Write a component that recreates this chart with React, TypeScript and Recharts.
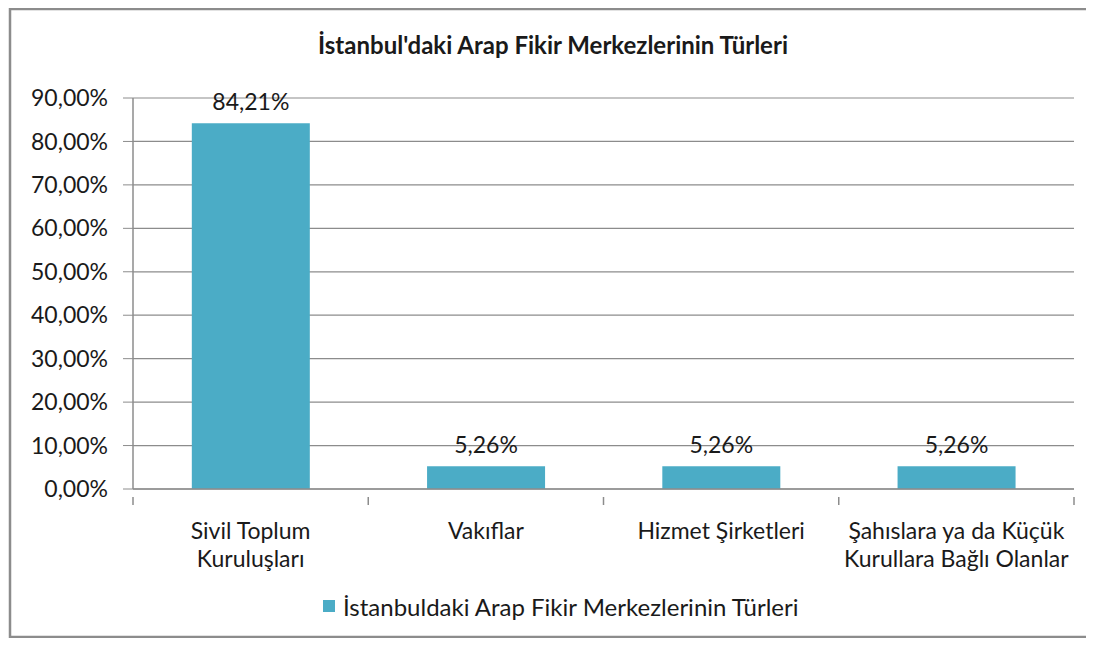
import React from 'react';
import { BarChart, Bar, XAxis, YAxis, CartesianGrid, LabelList } from 'recharts';

const title = "İstanbul'daki Arap Fikir Merkezlerinin Türleri";
const seriesName = 'İstanbuldaki Arap Fikir Merkezlerinin Türleri';
const categories = [
  'Sivil Toplum\nKuruluşları',
  'Vakıflar',
  'Hizmet Şirketleri',
  'Şahıslara ya da Küçük\nKurullara Bağlı Olanlar',
];
const values = [84.21, 5.26, 5.26, 5.26];
const yTicks = [0, 10, 20, 30, 40, 50, 60, 70, 80, 90];

const W = 1094;
const H = 646;
const xAxisHeight = 60;
const yAxisWidth = 133;
const margin = { top: 98, right: 20, bottom: 157 - xAxisHeight, left: 0 };
const font = 'Lato, "Open Sans", sans-serif';
const gray = '#8c8c8c';
const barColor = '#4bacc6';
const textColor = '#1a1a1a';

const data = categories.map((c, i) => ({ name: c, value: values[i] }));

const pct = (v: number) => v.toFixed(2).replace('.', ',') + '%';

const band = (W - margin.left - margin.right - yAxisWidth) / categories.length;

const CategoryTick = (props: any) => {
  const { x, y, payload, index } = props;
  const lines = String(payload.value).split('\n');
  const right = x + band / 2;
  return (
    <g>
      {index === 0 && <line x1={x - band / 2} x2={x - band / 2} y1={y} y2={y + 8} stroke={gray} strokeWidth={1.5} />}
      <line x1={right} x2={right} y1={y} y2={y + 8} stroke={gray} strokeWidth={1.5} />
      {lines.map((l, i) => (
        <text key={i} x={x} y={y + 42 + i * 28} textAnchor="middle" fontSize={23} fontFamily={font} fill={textColor}>
          {l}
        </text>
      ))}
    </g>
  );
};

export default function App() {
  return (
    <div style={{ position: 'relative', margin: -8, width: W, height: H, background: '#fff', overflow: 'hidden' }}>
      <BarChart width={W} height={H} data={data} margin={margin} barCategoryGap="25%">
        <CartesianGrid vertical={false} stroke={gray} strokeWidth={1.2} />
        <XAxis
          dataKey="name"
          interval={0}
          tickLine={false}
          axisLine={{ stroke: gray, strokeWidth: 1.5 }}
          tick={<CategoryTick />}
          height={xAxisHeight}
        />
        <YAxis
          width={yAxisWidth}
          domain={[0, 90]}
          ticks={yTicks}
          tickFormatter={pct}
          tick={{ fontSize: 23, fontFamily: font, fill: textColor }}
          tickLine={{ stroke: gray }}
          tickSize={10}
          tickMargin={15}
          axisLine={{ stroke: gray, strokeWidth: 1.5 }}
        />
        <Bar dataKey="value" name={seriesName} fill={barColor} isAnimationActive={false}>
          <LabelList
            dataKey="value"
            position="top"
            offset={13}
            formatter={(v: any) => pct(Number(v))}
            style={{ fontSize: 23, fontFamily: font, fill: textColor }}
          />
        </Bar>
      </BarChart>
      <div
        style={{
          position: 'absolute', left: 0, top: 32, width: W + 12, textAlign: 'center', lineHeight: '26px',
          fontFamily: font, fontWeight: 'bold', fontSize: 24, color: textColor, zIndex: 3,
        }}
      >
        {title}
      </div>
      <div
        style={{
          position: 'absolute', left: 323, top: 592, height: 28, display: 'flex', alignItems: 'center',
          fontFamily: font, fontSize: 24, color: textColor, whiteSpace: 'nowrap', zIndex: 3,
        }}
      >
        <span style={{ display: 'inline-block', width: 12, height: 12, background: barColor, marginRight: 8 }} />
        {seriesName}
      </div>
      {/* outer frame: left, top and bottom edges, the right one runs off the page */}
      <svg width={W} height={H} style={{ position: 'absolute', left: 0, top: 0, pointerEvents: 'none', zIndex: 5 }}>
        <polyline points={`${W},9 10,9 10,637 ${W},637`} fill="none" stroke={gray} strokeWidth={2.5} />
      </svg>
    </div>
  );
}
